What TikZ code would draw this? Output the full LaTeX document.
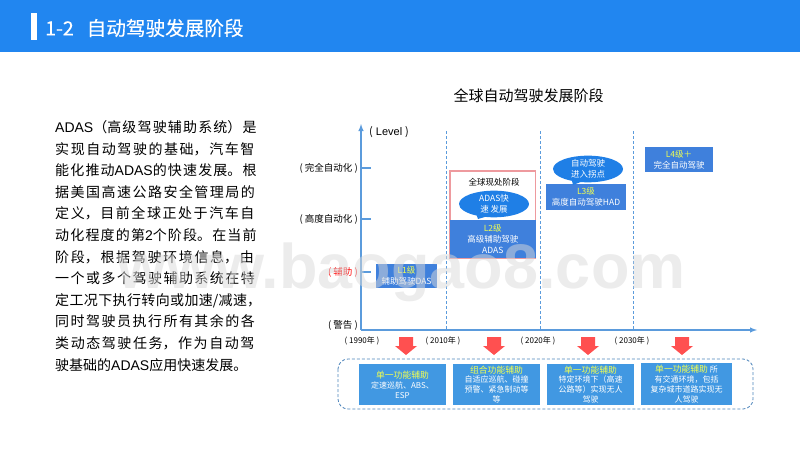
\documentclass[tikz,border=0pt]{standalone}
\usepackage{fontspec}
\setmainfont{Noto Sans CJK SC}
\newfontfamily\latinfont{Liberation Sans}
\newfontfamily\titlefont[FakeBold=0.3]{Noto Sans CJK SC}
\usetikzlibrary{shapes.callouts}

\definecolor{headblue}{HTML}{2186F0}
\definecolor{axisblue}{HTML}{5B9BDC}
\definecolor{levelblue}{HTML}{3F80DC}
\definecolor{stageblue}{HTML}{4198E2}
\definecolor{bubbleblue}{HTML}{1F7FE6}
\definecolor{arrowred}{HTML}{FF5050}
\definecolor{framered}{HTML}{EE9A9E}
\definecolor{headyellow}{HTML}{F2FF50}

\tikzset{
  axisline/.style={draw=axisblue,line width=1.4pt},
  splitline/.style={draw=axisblue,densely dashed,line width=0.5pt},
  levellabel/.style={anchor=east,inner sep=0pt,font=\fontsize{9.5}{11}\selectfont},
  yearlabel/.style={inner sep=0pt,font=\fontsize{8}{10}\selectfont},
  levelbox/.style={fill=levelblue,text=white,align=center,inner sep=0pt,font=\fontsize{8.5}{11}\selectfont},
  bubble/.style={ellipse callout,fill=bubbleblue,text=white,align=center,inner sep=0pt,minimum width=70pt,minimum height=25pt,font=\fontsize{8.5}{11}\selectfont},
  stagebox/.style={fill=stageblue,text=white,align=center,inner sep=0pt,font=\fontsize{8}{9.9}\selectfont},
  downarrow/.style={fill=arrowred,draw=none}
}

\newcommand{\lvl}[1]{\textcolor{headyellow}{#1}}
\newcommand{\stagehead}[1]{\textcolor{headyellow}{\fontsize{8.8}{9.9}\selectfont #1}}

\newcommand{\redarrow}[1]
{
\fill[downarrow] (#1-7,337) -- (#1+7,337) -- (#1+7,346) -- (#1+11,346) -- (#1,355) -- (#1-11,346) -- (#1-7,346) -- cycle;
}

\begin{document}
\begin{tikzpicture}[x=1pt,y=-1pt]
\useasboundingbox (0,0) rectangle (800,450);

\fill[headblue] (0,0) rectangle (800,52);
\fill[white] (31,13) rectangle (37,40);
\node[anchor=west,text=white,inner sep=0pt,font=\titlefont\fontsize{19.6}{22}\selectfont] (title) at (45,28) {1-2\hspace{13pt}自动驾驶发展阶段};

\node[anchor=north west,inner sep=0pt,text width=208pt,font=\fontsize{14}{21.6}\selectfont] (bodytext) at (55,120.3)
{\XeTeXlinebreaklocale "zh"\XeTeXlinebreakskip=0pt plus 5pt\relax
{\latinfont ADAS}（高级驾驶辅助系统）是\linebreak
实现自动驾驶的基础，汽车智\linebreak
能化推动{\latinfont ADAS}的快速发展。根\linebreak
据美国高速公路安全管理局的\linebreak
定义，目前全球正处于汽车自\linebreak
动化程度的第{\latinfont 2}个阶段。在当前\linebreak
阶段，根据驾驶环境信息，由\linebreak
一个或多个驾驶辅助系统在特\linebreak
定工况下执行转向或加速/减速，\linebreak
同时驾驶员执行所有其余的各\linebreak
类动态驾驶任务，作为自动驾\linebreak
驶基础的{\latinfont ADAS}应用快速发展。\par};

\node[inner sep=0pt,font=\fontsize{15}{17}\selectfont] (charttitle) at (528.5,96) {全球自动驾驶发展阶段};

\coordinate (origin) at (361,330);
\coordinate (ytop) at (361,124);
\coordinate (xend) at (757,330);
\draw[axisline,-latex] (origin) -- (ytop);
\draw[axisline,-latex] (origin) -- (xend);

\coordinate (splitatop) at (446,131);
\coordinate (splitabot) at (446,330);
\coordinate (splitbtop) at (540,131);
\coordinate (splitbbot) at (540,330);
\coordinate (splitctop) at (633,131);
\coordinate (splitcbot) at (633,330);
\draw[splitline] (splitatop) -- (splitabot);
\draw[splitline] (splitbtop) -- (splitbbot);
\draw[splitline] (splitctop) -- (splitcbot);

\node[anchor=west,inner sep=0pt,font=\fontsize{11}{12}\selectfont] (levelname) at (369,132) {(\hspace{3pt}{\latinfont Level}\hspace{3pt})};
\node[levellabel] (fulllabel) at (358,168) {( 完全自动化 )};
\node[levellabel] (highlabel) at (358,219) {( 高度自动化 )};
\node[levellabel,text=red] (assistlabel) at (358,272) {( 辅助 )};
\node[levellabel] (warnlabel) at (358,325) {( 警告 )};

\coordinate (tickfulla) at (362,168);
\coordinate (tickfullb) at (371,168);
\coordinate (tickhigha) at (362,219);
\coordinate (tickhighb) at (371,219);
\coordinate (tickassista) at (362,272);
\coordinate (tickassistb) at (371,272);
\draw[axisline] (tickfulla) -- (tickfullb);
\draw[axisline] (tickhigha) -- (tickhighb);
\draw[axisline] (tickassista) -- (tickassistb);

\node[levelbox,minimum width=61pt,minimum height=24pt] (levela) at (406.5,276) {\lvl{L1级}\\辅助驾驶DAS};

\draw[framered,line width=1.2pt] (450,171) rectangle (535.5,258);
\node[levelbox,minimum width=85.5pt,minimum height=38pt] (levelb) at (492.75,239) {\lvl{L2级}\\高级辅助驾驶\\ADAS};
\node[inner sep=0pt,font=\fontsize{8.5}{10}\selectfont] (nowlabel) at (494,182) {全球现处阶段};
\node[bubble,callout absolute pointer={(478,219)}] (bubbleb) at (494,204) {ADAS快\\速 发展};

\node[levelbox,minimum width=80pt,minimum height=26pt] (levelc) at (586,197) {\lvl{L3级}\\高度自动驾驶HAD};
\node[bubble,callout absolute pointer={(573,185)}] (bubblec) at (588,169) {自动驾驶\\进入拐点};

\node[levelbox,minimum width=68pt,minimum height=25pt] (leveld) at (679,159.5) {\lvl{L4级＋}\\完全自动驾驶};

\node[yearlabel] (yeara) at (362,341) {( 1990年 )};
\node[yearlabel] (yearb) at (443,341) {( 2010年 )};
\node[yearlabel] (yearc) at (538,341) {( 2020年 )};
\node[yearlabel] (yeard) at (632,341) {( 2030年 )};

\redarrow{406}
\redarrow{494}
\redarrow{588}
\redarrow{682}

\draw[axisline,line width=0.8pt,densely dashed,draw=axisblue!85!black,rounded corners=10pt] (338,359) rectangle (753,409);

\node[stagebox,minimum width=87pt,minimum height=41pt] (stagea) at (402.5,384.5) {\stagehead{单一功能辅助}\\定速巡航、ABS、\\ESP};
\node[stagebox,minimum width=87pt,minimum height=41pt] (stageb) at (496.5,384.5) {\stagehead{组合功能辅助}\\自适应巡航、碰撞\\预警、紧急制动等\\等};
\node[stagebox,minimum width=87pt,minimum height=41pt] (stagec) at (590.5,384.5) {\stagehead{单一功能辅助}\\特定环境下（高速\\公路等）实现无人\\驾驶};
\node[stagebox,minimum width=91pt,minimum height=42pt] (staged) at (686.5,384) {\stagehead{单一功能辅助} 所\\有交通环境，包括\\复杂城市道路实现无\\人驾驶};

\node[anchor=base west,inner sep=0pt,text=black!15,opacity=0.5,font=\latinfont\bfseries\fontsize{63}{70}\selectfont] (watermark) at (117,288) {www.baogao8.com};

\end{tikzpicture}
\end{document}
